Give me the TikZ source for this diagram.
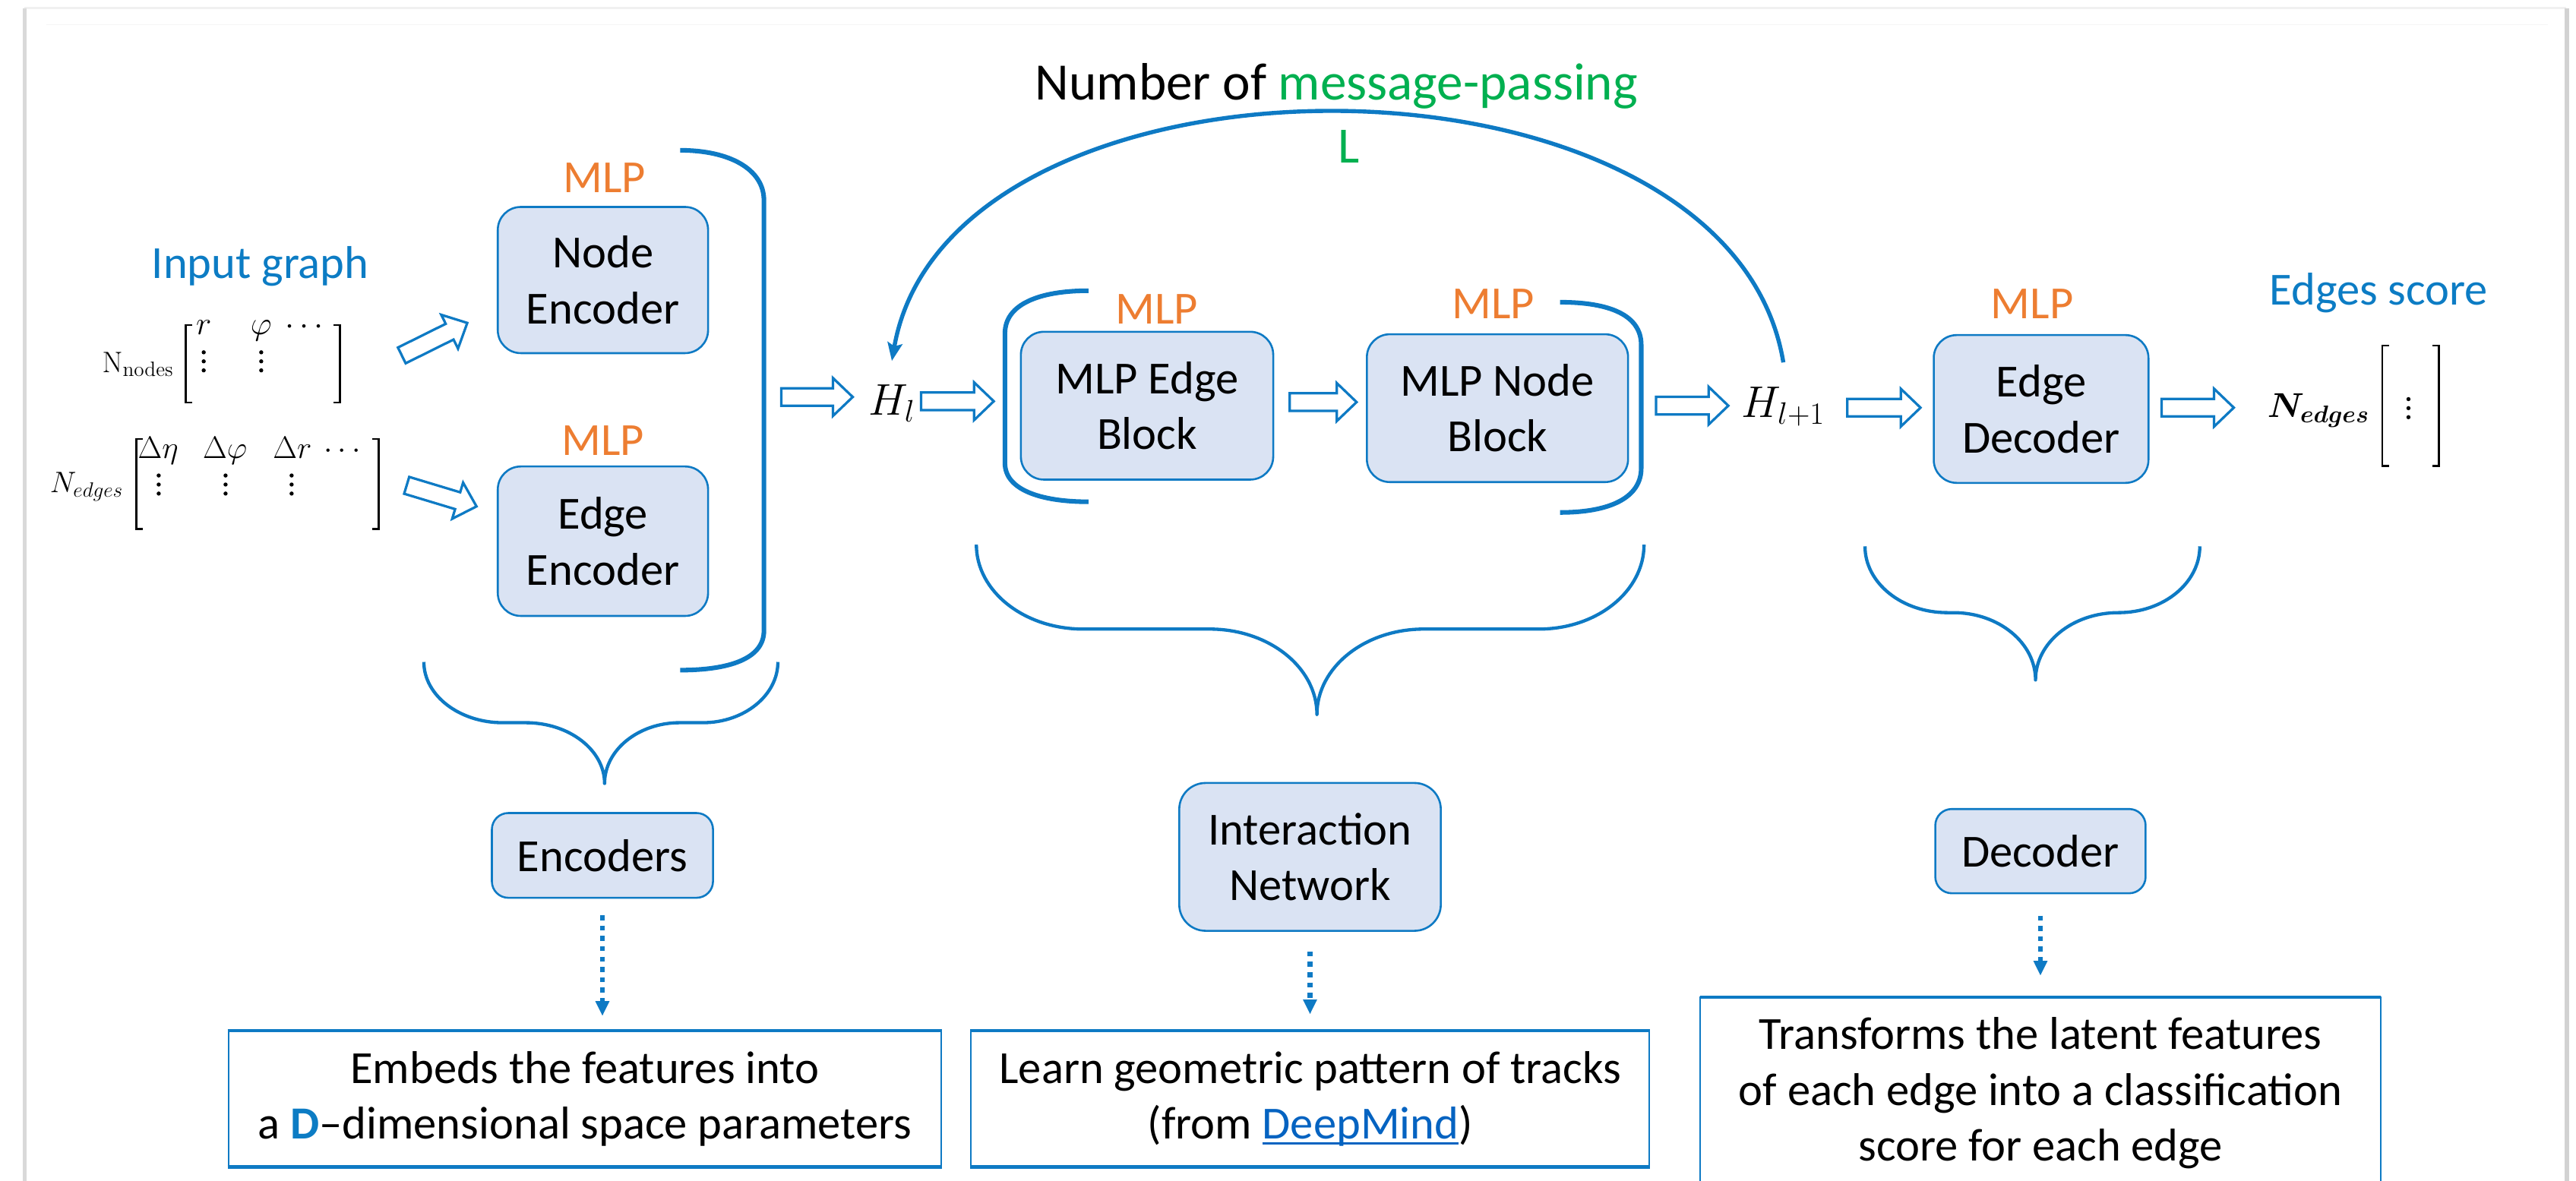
\RequirePackage{fix-cm}
\documentclass[tikz,border=0pt]{standalone}
\usepackage{amsmath}
\usepackage[no-math]{fontspec}
\setmainfont{Carlito}
\usetikzlibrary{arrows.meta,calc}
\definecolor{lineblue}{RGB}{14,122,196}
\definecolor{txtblue}{RGB}{12,124,196}
\definecolor{boxfill}{RGB}{218,227,243}
\definecolor{mlporange}{RGB}{237,125,49}
\definecolor{mpgreen}{RGB}{0,176,80}
\definecolor{linkblue}{RGB}{5,99,193}
\newcommand\fsz[2]{\fontsize{#1}{#2}\selectfont}
\newcommand\myul[1]{\setbox0\hbox{#1}\rlap{\rule[-3.5pt]{\wd0}{1.6pt}}\box0}
\tikzset{pics/harr/.style={code={
  \draw[draw=lineblue, fill=white, line width=1.5pt, line join=miter]
   ({-#1/2},-5.35) -- ({#1/2-12},-5.35) -- ({#1/2-12},-11.5) -- ({#1/2},0)
   -- ({#1/2-12},11.5) -- ({#1/2-12},5.35) -- ({-#1/2},5.35) -- cycle;}},
  pics/vdts/.style={code={
  \fill[black] (0,-5.5) circle[radius=1.25pt] (0,0) circle[radius=1.25pt] (0,5.5) circle[radius=1.25pt];}}}
\begin{document}
\begin{tikzpicture}[x=1pt,y=-1pt,
  blk/.style={draw=lineblue, fill=boxfill, line width=1.2pt, rounded corners=14pt, align=center, font=\fsz{28}{34}, inner sep=0pt},
  lbl/.style={font=\fsz{28}{34}, inner sep=0pt, anchor=base},
  mlp/.style={lbl, text=mlporange},
  brk/.style={draw=lineblue, line width=2.8pt},
  brace/.style={draw=lineblue, line width=2pt, line join=round},
  dotarr/.style={draw=lineblue, line width=3pt, dash pattern=on 3pt off 3.3pt, -{Triangle[length=9pt,width=8pt]}},
  desc/.style={draw=lineblue, line width=0.9pt, align=center, font=\fsz{28}{34}, inner sep=0pt},
  thickedge/.style={draw=lineblue, line width=2pt},
  mth/.style={inner sep=0pt, anchor=base, font=\fsz{20}{22}},
  mathbig/.style={inner sep=0pt, anchor=base west, font=\fsz{27}{30}},
  mbrk/.style={draw=black, line width=1.1pt},
]
\useasboundingbox (0,0) rectangle (1568,719);
\fill[white] (0,0) rectangle (1568,719);

% page frame
\draw[gray!12, line width=1.5pt] (15,5) -- (1562,5);
\draw[gray!8, line width=0.8pt] (28,15) -- (1551,15);
\draw[gray!30, line width=2.5pt] (15,5) -- (15,719);
\draw[gray!35, line width=3pt] (1562.5,5) -- (1562.5,719);

% title
\node[lbl, font=\fsz{32}{38}] (title) at (813.5,61) {Number of \textcolor{mpgreen}{message-passing}};
\node[lbl, text=mpgreen, font=\fsz{31}{36}] (Lnum) at (821,99.4) {L};

% input graph
\node[lbl, text=txtblue] (ig) at (158.5,169.7) {Input graph};
\node[mth, anchor=base east, font=\fsz{18}{20}] (nn) at (106,226.6) {$\mathrm{N}_{\mathrm{nodes}}$};
\node[mth] (n11) at (124,203.5) {$r$};
\node[mth] (n12) at (159,203.5) {$\varphi$};
\node[mth] (n13) at (187,203.5) {$\cdots$};
\pic at (124,220) {vdts};
\pic at (159,220) {vdts};
\draw[mbrk] (117,198) -- (113,198) -- (113,245) -- (117,245);
\draw[mbrk] (203,198) -- (207,198) -- (207,245) -- (203,245);

\node[mth, anchor=base east, font=\fsz{18}{20}] (ne) at (75.3,299.8) {$N_{edges}$};
\node[mth, font=\fsz{19}{22}] (e11) at (96.3,279) {$\Delta\eta$};
\node[mth, font=\fsz{19}{22}] (e12) at (137,279) {$\Delta\varphi$};
\node[mth, font=\fsz{19}{22}] (e13) at (178,279) {$\Delta r$};
\node[mth, font=\fsz{19}{22}] (e14) at (210,279) {$\cdots$};
\pic at (96.6,295) {vdts};
\pic at (137.3,295) {vdts};
\pic at (177.5,295) {vdts};
\draw[mbrk] (87,267.4) -- (83,267.4) -- (83,322) -- (87,322);
\draw[mbrk] (226.5,267.4) -- (230.5,267.4) -- (230.5,322) -- (226.5,322);

% encoders
\node[blk, minimum width=128pt, minimum height=89pt] (nodeenc) at (367,170.5) {Node\\Encoder};
\node[blk, minimum width=128pt, minimum height=91pt] (edgeenc) at (367,329.5) {Edge\\Encoder};
\node[mlp] (mlp1) at (368,117) {MLP};
\node[mlp] (mlp2) at (367,277) {MLP};
\pic[rotate=26.4] at (264.5,206.5) {harr=44.5};
\pic[rotate=-16.8] at (268.8,301.9) {harr=44.4};
\draw[brk] (414,91.5) .. controls (444,91.5) and (465,103) .. (465,122) -- (465,384) .. controls (465,401) and (444,408) .. (414,408);

% interaction network
\pic at (497.3,241.7) {harr=43.5};
\node[mathbig] (Hl) at (528.5,252.8) {$H_l$};
\pic at (582.8,244.3) {harr=44.2};
\draw[brk] (662.6,177) .. controls (633,177) and (611.7,185) .. (611.7,203) -- (611.7,282) .. controls (611.7,298) and (633,305.5) .. (662.6,305.5);
\draw[brk] (949.6,184) .. controls (980,184) and (999,192) .. (999,210) -- (999,285) .. controls (999,303) and (980,312) .. (949.6,312);
\node[blk, minimum width=153.6pt, minimum height=90pt] (edgeblock) at (698.2,247) {MLP Edge\\Block};
\node[blk, minimum width=159pt, minimum height=90pt] (nodeblock) at (911.5,248.5) {MLP Node\\Block};
\node[mlp] (mlp3) at (704,197.3) {MLP};
\node[mlp] (mlp4) at (909,194.2) {MLP};
\pic at (805.4,244.8) {harr=40.7};
\pic at (1030,247) {harr=44};
\node[mathbig] (Hl1) at (1060,254.3) {$H_{l+1}$};

% decoder
\pic at (1146.7,248.2) {harr=44.6};
\node[blk, minimum width=130.7pt, minimum height=90pt] (decblk) at (1242.4,249) {Edge\\Decoder};
\node[mlp] (mlp5) at (1237,194.2) {MLP};
\pic at (1337.7,248.2) {harr=44};
\node[lbl, text=txtblue] (es) at (1448,185.7) {Edges score};
\node[inner sep=0pt, anchor=base west, font=\fsz{21}{24}] (nout) at (1380,254.3) {$\boldsymbol{N_{edges}}$};
\pic at (1466,248.5) {vdts};
\draw[mbrk] (1454,210.5) -- (1450,210.5) -- (1450,283.6) -- (1454,283.6);
\draw[mbrk] (1480.5,210.5) -- (1484.5,210.5) -- (1484.5,283.6) -- (1480.5,283.6);

% message passing loop
\draw[draw=lineblue, line width=2.5pt, -{Stealth[length=11pt,width=9pt,inset=2pt]}]
  ([yshift=15pt]Hl1.north) .. controls (1052,18) and (578,18) .. ([yshift=14.4pt]Hl.north);

% braces
\draw[brace] (258,403) .. controls (258,423.4) and (279.6,440) .. (306,440) -- (320,440)
  .. controls (346.4,440) and (368,456.6) .. (368,477)
  .. controls (368,456.6) and (388.6,440) .. (413.7,440) -- (427.8,440)
  .. controls (452.9,440) and (473.5,423.4) .. (473.5,403);
\draw[brace] (594.3,331.6) .. controls (594.3,360) and (623.4,383) .. (659.3,383) -- (736.3,383)
  .. controls (772.3,383) and (801.6,406.3) .. (801.6,435)
  .. controls (801.6,406.3) and (830.7,383) .. (866.6,383) -- (936.7,383)
  .. controls (972.1,383) and (1000.7,360) .. (1000.7,331.6);
\draw[brace] (1135.2,332.6) .. controls (1135.2,354.9) and (1157.6,373) .. (1185.3,373) -- (1189,373)
  .. controls (1216.6,373) and (1239,391.4) .. (1239,414)
  .. controls (1239,391.4) and (1261.4,373) .. (1289.5,373)
  .. controls (1317,373) and (1339,354.9) .. (1339,332.6);

% summary boxes
\node[blk, rounded corners=10pt, minimum width=134.6pt, minimum height=51.6pt] (encs) at (366.7,520.8) {Encoders};
\node[blk, rounded corners=16pt, minimum width=159.2pt, minimum height=90pt] (inet) at (797.4,521.7) {Interaction\\Network};
\node[blk, rounded corners=10pt, minimum width=128pt, minimum height=51.3pt] (decs) at (1242,518.2) {Decoder};

% description boxes
\node[desc, minimum width=434pt, minimum height=82pt] (d1) at (356,669) {Embeds the features into\\a \textcolor{txtblue}{\textbf{D}}–dimensional space parameters};
\node[desc, minimum width=413pt, minimum height=82pt] (d2) at (797.5,669) {Learn geometric pattern of tracks\\(from \textcolor{linkblue}{\myul{DeepMind}})};
\draw[thickedge] (d1.north west) -- (d1.north east);
\draw[thickedge] (d1.south west) -- (d1.south east);
\draw[thickedge] (d2.north west) -- (d2.north east);
\draw[thickedge] (d2.south west) -- (d2.south east);
\node[align=center, inner sep=0pt, font=\fsz{28}{34}] (d3) at (1242,665.5) {Transforms the latent features\\of each edge into a classification\\score for each edge};
\coordinate (d3top) at (1242,607);
\draw[draw=lineblue, line width=0.9pt] (1035,719) |- (1449,607) -- (1449,719);
\draw[thickedge] (1035,607) -- (1449,607);

% dotted connectors
\draw[dotarr] ([yshift=-10pt]encs.south) -- ([yshift=9pt]encs.south |- d1.north);
\draw[dotarr] ([yshift=-12pt]inet.south) -- ([yshift=10pt]inet.south |- d2.north);
\draw[dotarr] ([yshift=-13pt]decs.south) -- ([yshift=13pt]decs.south |- d3top);
\end{tikzpicture}
\end{document}
